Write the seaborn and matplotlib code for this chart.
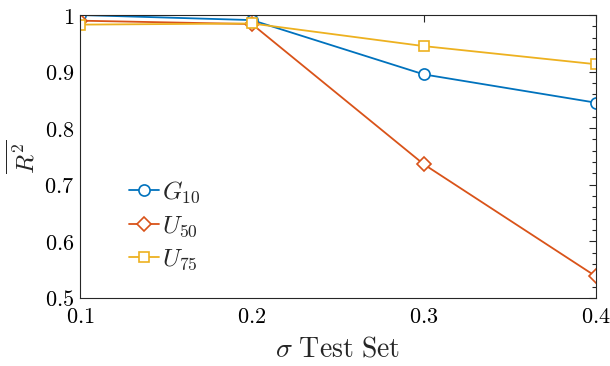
import numpy as np
import pandas as pd
import seaborn as sns
import matplotlib.pyplot as plt
from matplotlib.ticker import MultipleLocator, FuncFormatter

# data
sigma = [0.1, 0.2, 0.3, 0.4]
g10 = [1.000, 0.991, 0.895, 0.845]
u50 = [0.990, 0.984, 0.736, 0.538]
u75 = [0.983, 0.985, 0.945, 0.913]

series = [
    (r'$G_{10}$', g10, '#0072BD', 'o', 8),
    (r'$U_{50}$', u50, '#D95319', 'D', 7),
    (r'$U_{75}$', u75, '#EDB120', 's', 7),
]

sns.set_theme(style="white")
plt.rcParams['mathtext.fontset'] = 'cm'
plt.rcParams['font.family'] = ['DejaVu Serif']

fig = plt.figure(figsize=(6.1, 3.66), dpi=100)
ax = fig.add_axes([0.131, 0.186, 0.846, 0.773])

for label, vals, color, marker, ms in series:
    df = pd.DataFrame({'sigma': sigma, 'r2': vals})
    sns.lineplot(x='sigma', y='r2', data=df, ax=ax, color=color, marker=marker,
                 markersize=ms, markerfacecolor='white', markeredgecolor=color,
                 markeredgewidth=1.2, linewidth=1.3, label=label)

ax.set_xlim(0.1, 0.4)
ax.set_ylim(0.5, 1.0)
ax.xaxis.set_major_locator(MultipleLocator(0.1))
ax.yaxis.set_major_locator(MultipleLocator(0.1))
ax.yaxis.set_minor_locator(MultipleLocator(0.02))

def fmt(v, pos):
    s = ('%.1f' % v)
    if s == '1.0':
        s = '1'
    return '$' + s + '$'

ax.xaxis.set_major_formatter(FuncFormatter(fmt))
ax.yaxis.set_major_formatter(FuncFormatter(fmt))

ax.tick_params(which='both', direction='in', top=True, right=True, colors='#262626',
               labelcolor='black', labelsize=16)
ax.tick_params(which='major', length=5, width=0.8)
ax.tick_params(which='minor', length=3, width=0.8)
ax.tick_params(axis='x', which='major', pad=6)
ax.tick_params(axis='y', which='major', pad=4)
for sp in ax.spines.values():
    sp.set_color('#262626')
    sp.set_linewidth(0.8)

ax.set_xlabel(r'$\sigma\ \mathrm{Test\ Set}$', fontsize=20, labelpad=5)
ax.set_ylabel(r'$\overline{R^2}$', fontsize=18, labelpad=4)

ax.legend(loc='center left', bbox_to_anchor=(0.075, 0.255), frameon=False, fontsize=18,
          handlelength=1.2, handletextpad=0.15, labelspacing=0.35, borderaxespad=0)

fig.savefig('out.png', dpi=100)
